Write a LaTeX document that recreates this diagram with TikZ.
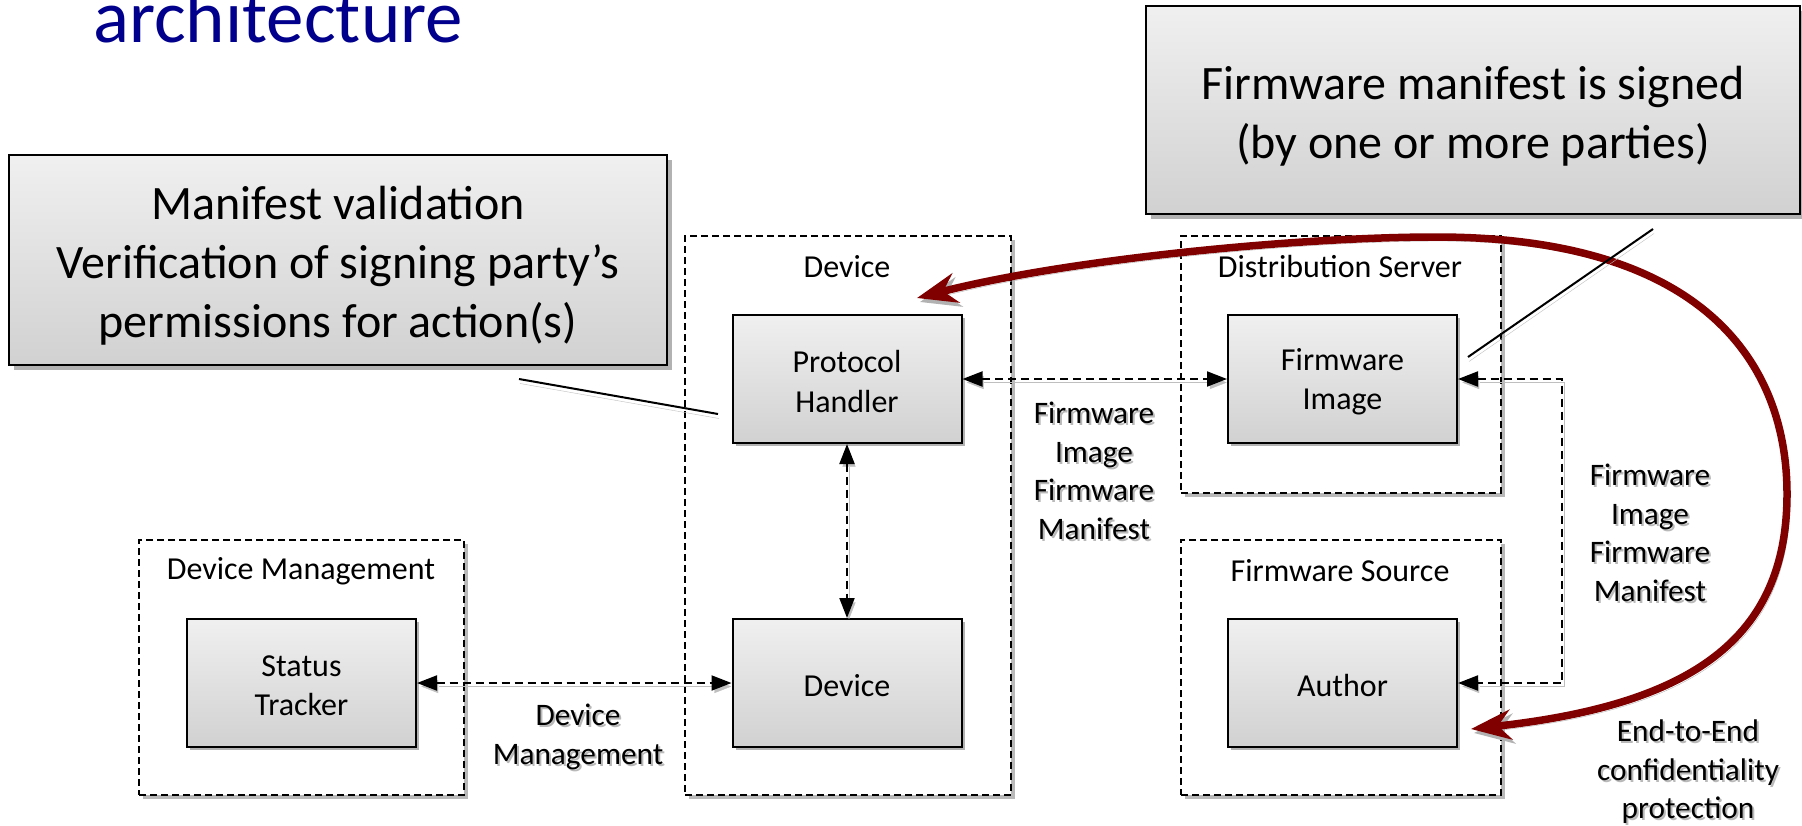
\documentclass[tikz,border=0pt]{standalone}
\usepackage{fontspec}
\setmainfont{Carlito}
\usetikzlibrary{arrows.meta,shadows}
\definecolor{titleblue}{RGB}{0,0,140}
\definecolor{arcred}{RGB}{128,0,0}
\newcommand\labelfont{\fontsize{31.3}{38.5}\selectfont}
\newcommand\boxfont{\fontsize{32}{39.5}\selectfont}
\newcommand\groupfont{\fontsize{32}{39.5}\selectfont}
\newcommand\calloutfont{\fontsize{48}{59}\selectfont}
\newcommand\titlefont{\fontsize{75}{90}\selectfont}
% text label with a soft grey copy behind it
\newcommand\shadedlabel[3]{%
  \node[edgelabel, text=gray!55, xshift=2pt, yshift=-2pt] (#1-shadow) at #2 {#3};
  \node[edgelabel] (#1) at #2 {#3};}
\tikzset{
  container/.style={draw=black, line width=1.6pt, dash pattern=on 7pt off 4pt,
    fill=white, drop shadow={shadow xshift=4pt, shadow yshift=-4pt, fill=gray!55, opacity=1}},
  grouptitle/.style={font=\groupfont, inner sep=0pt},
  box/.style={draw=black, line width=2pt, top color=gray!12, bottom color=gray!36,
    minimum width=229pt, minimum height=128pt,
    drop shadow={shadow xshift=3pt, shadow yshift=-3pt, fill=gray!60, opacity=1}},
  boxtext/.style={font=\boxfont, align=center, inner sep=0pt, yshift=-2.5pt},
  callout/.style={draw=black, line width=2pt, top color=gray!12, bottom color=gray!36,
    drop shadow={shadow xshift=5pt, shadow yshift=-5pt, fill=gray!60, opacity=1}},
  callouttext/.style={font=\calloutfont, align=center, inner sep=0pt, yshift=-6pt},
  edgelabel/.style={font=\labelfont, align=center, inner sep=0pt},
  conn/.style={line width=2pt, dash pattern=on 8pt off 5pt,
    {Triangle[length=20pt,width=15pt]}-{Triangle[length=20pt,width=15pt]},
    preaction={draw=gray!50, transform canvas={shift={(2pt,-3.5pt)}}}},
  redarc/.style={draw=arcred, line width=7.5pt,
    {Stealth[length=40pt,width=30pt]}-{Stealth[length=40pt,width=30pt]},
    preaction={draw=gray!60, transform canvas={shift={(3pt,-4pt)}}}},
  pointer/.style={draw=black, line width=2pt,
    preaction={draw=gray!50, transform canvas={shift={(1pt,-4.5pt)}}}},
}
\begin{document}
\begin{tikzpicture}[x=1pt, y=-1pt]
  \fill[white] (0,0) rectangle (1802,825);
  \useasboundingbox (0,0) rectangle (1802,825);

  % heading
  \node[anchor=base west, inner sep=0pt, text=titleblue, font=\titlefont] (title) at (93,42) {architecture};

  % callouts
  \node[callout, minimum width=658pt, minimum height=210pt,
    label={[callouttext]center:{Manifest validation\\Verification of signing party’s\\permissions for action(s)}}]
    (leftnote) at (338,260) {};
  \node[callout, minimum width=654pt, minimum height=208pt,
    label={[callouttext]center:{Firmware manifest is signed\\(by one or more parties)}}]
    (rightnote) at (1473,110) {};

  % groups
  \node[container, minimum width=326pt, minimum height=559pt] (devc) at (848,515.5) {};
  \node[container, minimum width=320pt, minimum height=257pt] (dsc) at (1341,364.5) {};
  \node[container, minimum width=320pt, minimum height=255pt] (fsc) at (1341,667.5) {};
  \node[container, minimum width=325pt, minimum height=255pt] (dmc) at (301.5,667.5) {};

  \node[grouptitle] (devt) at (847,267) {Device};
  \node[grouptitle] (dst) at (1340,267) {Distribution Server};
  \node[grouptitle] (fst) at (1340,571) {Firmware Source};
  \node[grouptitle] (dmt) at (301,571) {Device Management};

  % components
  \node[box, label={[boxtext]center:{Protocol\\Handler}}] (ph) at (847,379) {};
  \node[box, label={[boxtext]center:{Device}}] (dev) at (847,683) {};
  \node[box, label={[boxtext]center:{Firmware\\Image}}] (fi) at (1342.5,379) {};
  \node[box, label={[boxtext]center:{Author}}] (auth) at (1342.5,683) {};
  \node[box, label={[boxtext]center:{Status\\Tracker}}] (st) at (301.5,683) {};

  % flows
  \draw[conn] (ph.east) -- (fi.west);
  \draw[conn] (ph.south) -- (dev.north);
  \draw[conn] (st.east) -- (dev.west);
  \draw[conn] (fi.east) -- ++(104,0) |- (auth.east);

  \shadedlabel{flowa}{(1094,471)}{Firmware\\Image\\Firmware\\Manifest}
  \shadedlabel{flowb}{(1650,533)}{Firmware\\Image\\Firmware\\Manifest}
  \shadedlabel{flowc}{(578,737)}{Device\\Management}
  \shadedlabel{flowd}{(1688,772)}{End-to-End\\confidentiality\\protection}

  % end-to-end protection arc
  \coordinate (arcstart) at (917,298);
  \coordinate (arcend) at (1471,729);
  \draw[redarc] (arcstart) .. controls (1069,259) and (1300,237) .. (1436,237)
    .. controls (1700,237) and (1787,360) .. (1787,494)
    .. controls (1787,640) and (1690,705) .. (arcend);

  % callout pointers
  \coordinate (lp1) at (519,379);
  \coordinate (lp2) at (718,414);
  \coordinate (rp1) at (1653,229);
  \coordinate (rp2) at (1468,357);
  \draw[pointer] (lp1) -- (lp2);
  \draw[pointer] (rp1) -- (rp2);
\end{tikzpicture}
\end{document}
